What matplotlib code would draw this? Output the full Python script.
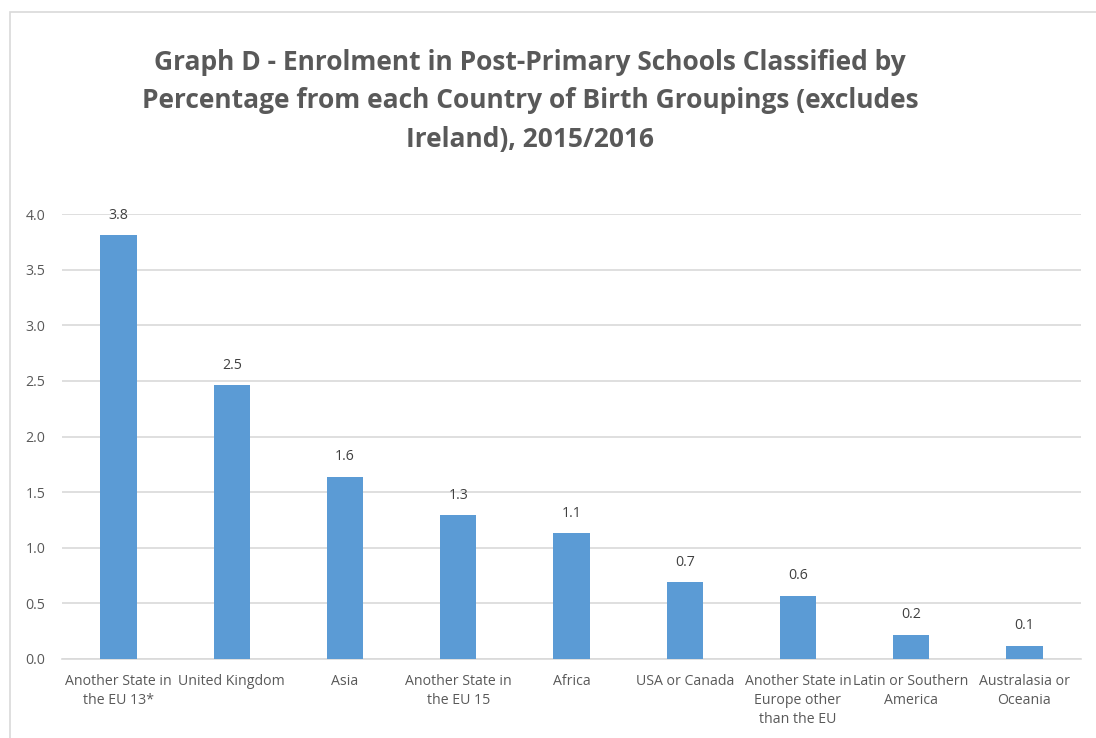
import matplotlib.pyplot as plt
import matplotlib.patches as mpatches

categories = [
    'Another State in\nthe EU 13*',
    'United Kingdom',
    'Asia',
    'Another State in\nthe EU 15',
    'Africa',
    'USA or Canada',
    'Another State in\nEurope other\nthan the EU',
    'Latin or Southern\nAmerica',
    'Australasia or\nOceania',
]
values = [3.81, 2.46, 1.64, 1.29, 1.13, 0.69, 0.57, 0.22, 0.12]
yticks = [0.0, 0.5, 1.0, 1.5, 2.0, 2.5, 3.0, 3.5, 4.0]

title = ('Graph D - Enrolment in Post-Primary Schools Classified by\n'
         'Percentage from each Country of Birth Groupings (excludes\n'
         'Ireland), 2015/2016')

text_col = '#595959'
bar_col = '#5B9BD5'
grid_col = '#D9D9D9'
fam = ['Open Sans', 'DejaVu Sans']

fig = plt.figure(figsize=(10.96, 7.38), dpi=100)
fig.patch.set_facecolor('white')

# chart area border
fig.add_artist(mpatches.Rectangle((10 / 1096, -0.01), 1.0, 1 - 12 / 738 + 0.01,
                                  transform=fig.transFigure, fill=False,
                                  edgecolor='#D9D9D9', linewidth=1.2))

ax = fig.add_axes([62 / 1096, 1 - 659 / 738, (1081 - 62) / 1096, (659 - 214) / 738])
x = range(len(categories))
bars = ax.bar(x, values, width=0.32, color=bar_col, zorder=3)

for b, v in zip(bars, values):
    ax.annotate(f'{v:.1f}', (b.get_x() + b.get_width() / 2, v),
                xytext=(0, 9), textcoords='offset points',
                ha='center', va='bottom', fontsize=10.2, color='#404040', family=fam)

ax.set_xlim(-0.5, len(categories) - 0.5)
ax.set_ylim(0, 4.0)
ax.set_yticks(yticks)
ax.set_yticklabels([f'{t:.1f}' for t in yticks], family=fam, fontsize=10.2, color=text_col)
ax.set_xticks(list(x))
ax.set_xticklabels(categories, family=fam, fontsize=10.2, color=text_col, linespacing=1.4)
ax.tick_params(axis='both', length=0)
ax.tick_params(axis='x', pad=10.5)
ax.tick_params(axis='y', pad=12)
ax.grid(axis='y', color=grid_col, linewidth=1.2, zorder=0)
for s in ['top', 'right', 'left']:
    ax.spines[s].set_visible(False)
ax.spines['bottom'].set_color(grid_col)
ax.spines['bottom'].set_linewidth(1.2)

fig.text(530 / 1096, 1 - 101 / 738, title, ha='center', va='center',
         fontsize=19, fontweight='bold', color=text_col,
         family=fam, linespacing=1.55)

fig.savefig('out.png', dpi=100)
